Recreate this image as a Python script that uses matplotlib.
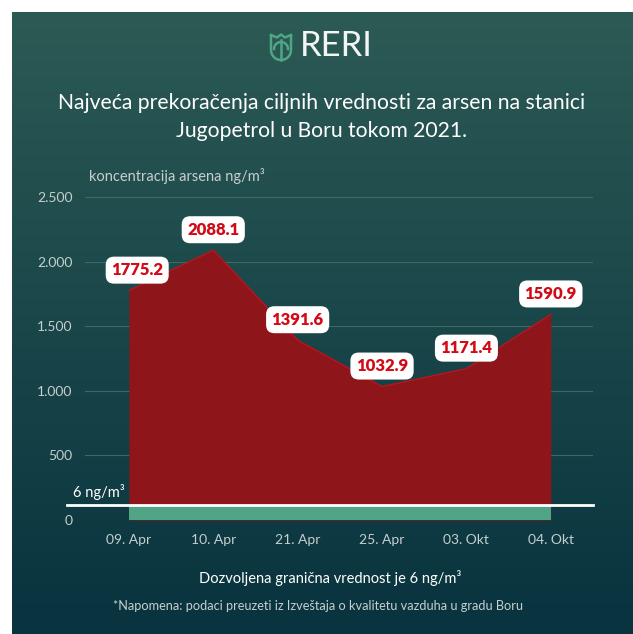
import matplotlib.pyplot as plt
import numpy as np

plt.rcParams['font.family'] = ['Lato', 'DejaVu Sans']

# data
dates = ['09. Apr', '10. Apr', '21. Apr', '25. Apr', '03. Okt', '04. Okt']
values = [1775.2, 2088.1, 1391.6, 1032.9, 1171.4, 1590.9]
yticks = [0, 500, 1000, 1500, 2000, 2500]
ytick_labels = ['0', '500', '1.000', '1.500', '2.000', '2.500']
limit_band = 115  # drawn height of the 6 ng/m3 band (not to scale)

W, H = 633, 634
fig = plt.figure(figsize=(W / 100, H / 100), dpi=100)
fig.patch.set_facecolor('white')

# gradient background
bg = fig.add_axes([12 / W, 0, 1 - 12 / W, 1 - 12 / H])
top = np.array([0x2c, 0x5a, 0x54]) / 255
bot = np.array([0x08, 0x33, 0x3f]) / 255
t = np.linspace(0, 1, 256)[:, None]
grad = top * (1 - t) + bot * t
bg.imshow(grad[:, None, :].repeat(2, axis=1), aspect='auto', extent=[0, 1, 0, 1])
bg.set_axis_off()

# main axes
ax = fig.add_axes([85 / W, 114 / H, 508 / W, 323 / H])
ax.set_facecolor('none')
x = np.arange(len(values))
ax.fill_between(x, 0, values, color='#8e1519', lw=0, zorder=2)
ax.plot(x, values, color='#c4101a', lw=1, zorder=3)
ax.fill_between(x, 0, limit_band, color='#4fa586', lw=0, zorder=4)
ax.set_xlim(-0.52, 5.5)
ax.set_ylim(0, 2500)
ax.set_yticks(yticks)
ax.set_yticklabels(ytick_labels)
ax.set_xticks(x)
ax.set_xticklabels(dates)
ax.grid(axis='y', color='#3e6a66', lw=0.8, zorder=1)
ax.grid(axis='x', visible=False)
for s in ax.spines.values():
    s.set_visible(False)
ax.tick_params(length=0, colors='#c5cfce', labelsize=10)
ax.tick_params(axis='y', pad=9)
ax.tick_params(axis='x', pad=10)

# white limit line
ax.plot([-0.73, 5.5], [limit_band, limit_band], color='white', lw=2, zorder=5,
        clip_on=False)
ax.annotate('6 ng/m³', (-0.73, limit_band), xytext=(4, 4), textcoords='offset points',
            color='white', fontsize=10.5, ha='left', va='bottom',
            annotation_clip=False)

# value labels
for i, v in enumerate(values):
    dx = 6 if i == 0 else 0
    ax.annotate(f'{v:.1f}', (i, v), xytext=(dx, 9), textcoords='offset points',
                ha='center', va='bottom', color='#d20a16', fontsize=12,
                fontweight='heavy', zorder=6,
                bbox=dict(boxstyle='round,pad=0.33,rounding_size=0.5',
                          fc='white', ec='none'))

# texts
fig.text(89 / W, 1 - 176 / H, 'koncentracija arsena ng/m³', color='#c5cfce',
         fontsize=10.5, ha='left', va='center')
fig.text(322 / W, 1 - 103 / H, 'Najveća prekoračenja ciljnih vrednosti za arsen na stanici',
         color='white', fontsize=15.2, ha='center', va='center')
fig.text(322 / W, 1 - 131 / H, 'Jugopetrol u Boru tokom 2021.',
         color='white', fontsize=15.2, ha='center', va='center')
fig.text(330 / W, 1 - 578 / H, 'Dozvoljena granična vrednost je 6 ng/m³',
         color='white', fontsize=10.5, ha='center', va='center')
fig.text(318 / W, 1 - 606 / H,
         '*Napomena: podaci preuzeti iz Izveštaja o kvalitetu vazduha u gradu Boru',
         color='#c5cfce', fontsize=9.2, ha='center', va='center')

# logo
fig.text(300 / W, 1 - 46 / H, 'RERI', color='#f2f5f4', fontsize=25,
         fontweight='normal', ha='left', va='center')
lg = fig.add_axes([268 / W, 1 - 62 / H, 26 / W, 30 / H])
lg.set_xlim(0, 26)
lg.set_ylim(0, 30)
lg.set_axis_off()
c = '#4fa586'
th = np.linspace(np.pi, 2 * np.pi, 30)
ox = np.concatenate([[3, 3], 13 + 10 * np.cos(th), [23, 23]])
oy = np.concatenate([[27, 12], 12 + 10 * np.sin(th), [12, 27]])
lg.plot(ox, oy, color=c, lw=1.8, solid_capstyle='round')
# top of the tulip: two side petals meeting the middle bud
lg.plot([3, 9, 13, 17, 23], [27, 24.5, 27.5, 24.5, 27], color=c, lw=1.8,
        solid_joinstyle='round')
lg.plot([13, 13], [2, 22], color=c, lw=1.8)
th2 = np.linspace(0, np.pi / 2, 20)
lg.plot(13 - 7 * np.sin(th2), 13 + 7 * np.cos(th2), color=c, lw=1.8)
lg.plot(13 + 7 * np.sin(th2), 13 + 7 * np.cos(th2), color=c, lw=1.8)

fig.savefig('out.png', dpi=100)
